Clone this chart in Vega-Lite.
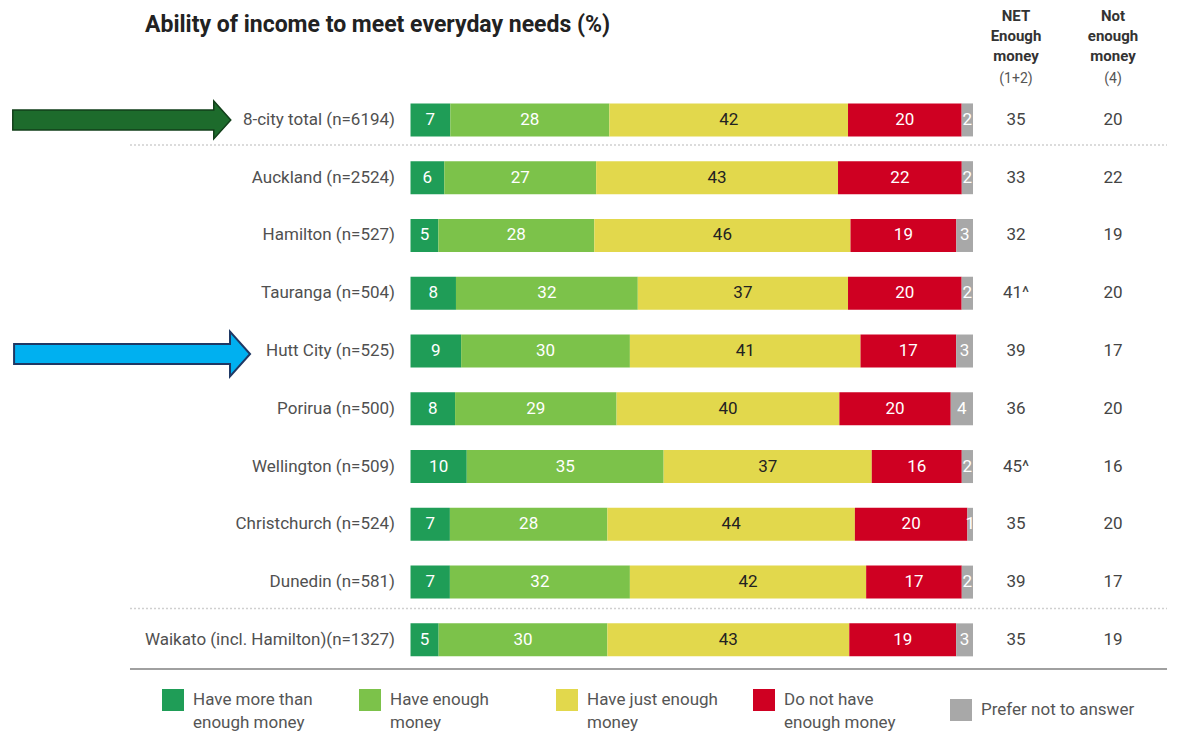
{
  "$schema": "https://vega.github.io/schema/vega-lite/v6.json",
  "width": 1178,
  "height": 742,
  "autosize": {"type": "none"},
  "padding": 0,
  "background": "white",
  "config": {"view": {"stroke": null}, "font": "Roboto", "style": {"guide-label": {"lineHeight": 23}}},
  "datasets": {
    "cities": [
      {"row": 0, "city": "8-city total (n=6194)", "net": "35", "notenough": "20"},
      {"row": 1, "city": "Auckland (n=2524)", "net": "33", "notenough": "22"},
      {"row": 2, "city": "Hamilton (n=527)", "net": "32", "notenough": "19"},
      {"row": 3, "city": "Tauranga (n=504)", "net": "41^", "notenough": "20"},
      {"row": 4, "city": "Hutt City (n=525)", "net": "39", "notenough": "17"},
      {"row": 5, "city": "Porirua (n=500)", "net": "36", "notenough": "20"},
      {"row": 6, "city": "Wellington (n=509)", "net": "45^", "notenough": "16"},
      {"row": 7, "city": "Christchurch (n=524)", "net": "35", "notenough": "20"},
      {"row": 8, "city": "Dunedin (n=581)", "net": "39", "notenough": "17"},
      {"row": 9, "city": "Waikato (incl. Hamilton)(n=1327)", "net": "35", "notenough": "19"}
    ],
    "segments": [
      {"row": 0, "k": 1, "cat": "Have more than enough money", "pct": 7},
      {"row": 0, "k": 2, "cat": "Have enough money", "pct": 28},
      {"row": 0, "k": 3, "cat": "Have just enough money", "pct": 42},
      {"row": 0, "k": 4, "cat": "Do not have enough money", "pct": 20},
      {"row": 0, "k": 5, "cat": "Prefer not to answer", "pct": 2},
      {"row": 1, "k": 1, "cat": "Have more than enough money", "pct": 6},
      {"row": 1, "k": 2, "cat": "Have enough money", "pct": 27},
      {"row": 1, "k": 3, "cat": "Have just enough money", "pct": 43},
      {"row": 1, "k": 4, "cat": "Do not have enough money", "pct": 22},
      {"row": 1, "k": 5, "cat": "Prefer not to answer", "pct": 2},
      {"row": 2, "k": 1, "cat": "Have more than enough money", "pct": 5},
      {"row": 2, "k": 2, "cat": "Have enough money", "pct": 28},
      {"row": 2, "k": 3, "cat": "Have just enough money", "pct": 46},
      {"row": 2, "k": 4, "cat": "Do not have enough money", "pct": 19},
      {"row": 2, "k": 5, "cat": "Prefer not to answer", "pct": 3},
      {"row": 3, "k": 1, "cat": "Have more than enough money", "pct": 8},
      {"row": 3, "k": 2, "cat": "Have enough money", "pct": 32},
      {"row": 3, "k": 3, "cat": "Have just enough money", "pct": 37},
      {"row": 3, "k": 4, "cat": "Do not have enough money", "pct": 20},
      {"row": 3, "k": 5, "cat": "Prefer not to answer", "pct": 2},
      {"row": 4, "k": 1, "cat": "Have more than enough money", "pct": 9},
      {"row": 4, "k": 2, "cat": "Have enough money", "pct": 30},
      {"row": 4, "k": 3, "cat": "Have just enough money", "pct": 41},
      {"row": 4, "k": 4, "cat": "Do not have enough money", "pct": 17},
      {"row": 4, "k": 5, "cat": "Prefer not to answer", "pct": 3},
      {"row": 5, "k": 1, "cat": "Have more than enough money", "pct": 8},
      {"row": 5, "k": 2, "cat": "Have enough money", "pct": 29},
      {"row": 5, "k": 3, "cat": "Have just enough money", "pct": 40},
      {"row": 5, "k": 4, "cat": "Do not have enough money", "pct": 20},
      {"row": 5, "k": 5, "cat": "Prefer not to answer", "pct": 4},
      {"row": 6, "k": 1, "cat": "Have more than enough money", "pct": 10},
      {"row": 6, "k": 2, "cat": "Have enough money", "pct": 35},
      {"row": 6, "k": 3, "cat": "Have just enough money", "pct": 37},
      {"row": 6, "k": 4, "cat": "Do not have enough money", "pct": 16},
      {"row": 6, "k": 5, "cat": "Prefer not to answer", "pct": 2},
      {"row": 7, "k": 1, "cat": "Have more than enough money", "pct": 7},
      {"row": 7, "k": 2, "cat": "Have enough money", "pct": 28},
      {"row": 7, "k": 3, "cat": "Have just enough money", "pct": 44},
      {"row": 7, "k": 4, "cat": "Do not have enough money", "pct": 20},
      {"row": 7, "k": 5, "cat": "Prefer not to answer", "pct": 1},
      {"row": 8, "k": 1, "cat": "Have more than enough money", "pct": 7},
      {"row": 8, "k": 2, "cat": "Have enough money", "pct": 32},
      {"row": 8, "k": 3, "cat": "Have just enough money", "pct": 42},
      {"row": 8, "k": 4, "cat": "Do not have enough money", "pct": 17},
      {"row": 8, "k": 5, "cat": "Prefer not to answer", "pct": 2},
      {"row": 9, "k": 1, "cat": "Have more than enough money", "pct": 5},
      {"row": 9, "k": 2, "cat": "Have enough money", "pct": 30},
      {"row": 9, "k": 3, "cat": "Have just enough money", "pct": 43},
      {"row": 9, "k": 4, "cat": "Do not have enough money", "pct": 19},
      {"row": 9, "k": 5, "cat": "Prefer not to answer", "pct": 3}
    ]
  },
  "layer": [
    {
      "data": {"values": [{"line": "top"}]},
      "mark": {"type": "rule", "color": "#d0d0d0", "strokeWidth": 1.5, "strokeDash": [2, 2]},
      "encoding": {
        "x": {"datum": -0.4987, "type": "quantitative", "scale": {"domain": [-0.7298, 1.3644], "nice": false, "zero": false}, "axis": null},
        "x2": {"datum": 1.3449},
        "y": {"datum": 0.435, "type": "quantitative", "scale": {"domain": [-1.9894, 10.6814], "nice": false, "zero": false, "reverse": true}, "axis": null}
      }
    },
    {
      "data": {"values": [{"line": "mid"}]},
      "mark": {"type": "rule", "color": "#d0d0d0", "strokeWidth": 1.5, "strokeDash": [2, 2]},
      "encoding": {
        "x": {"datum": -0.4987, "type": "quantitative", "axis": null},
        "x2": {"datum": 1.3449},
        "y": {"datum": 8.456, "type": "quantitative", "axis": null}
      }
    },
    {
      "data": {"values": [{"line": "bottom"}]},
      "mark": {"type": "rule", "color": "#a0a0a0", "strokeWidth": 2},
      "encoding": {
        "x": {"datum": -0.4987, "type": "quantitative", "axis": null},
        "x2": {"datum": 1.3449},
        "y": {"datum": 9.503, "type": "quantitative", "axis": null}
      }
    },
    {
      "data": {"name": "segments"},
      "mark": {"type": "bar", "orient": "horizontal", "size": 33},
      "encoding": {
        "x": {"field": "pct", "type": "quantitative", "stack": "normalize", "axis": null},
        "y": {"field": "row", "type": "quantitative", "axis": null},
        "order": {"field": "k", "type": "quantitative"},
        "color": {
          "field": "cat",
          "type": "nominal",
          "scale": {
            "domain": ["Have more than enough money", "Have enough money", "Have just enough money", "Do not have enough money", "Prefer not to answer"],
            "range": ["#1f9d57", "#7cc24a", "#e2d84c", "#cf0022", "#a8a8a8"]
          },
          "legend": {
            "orient": "none",
            "legendX": 162,
            "legendY": 689,
            "direction": "horizontal",
            "columns": 5,
            "title": null,
            "symbolType": "square",
            "symbolSize": 484,
            "symbolStrokeWidth": 0,
            "symbolOpacity": 1,
            "labelFontSize": 17,
            "labelColor": "#555555",
            "labelFont": "Roboto",
            "labelOffset": 9,
            "labelLimit": 300,
            "gridAlign": "all",
            "columnPadding": 12,
            "labelExpr": "datum.label == 'Have more than enough money' ? ['Have more than', 'enough money'] : datum.label == 'Have enough money' ? ['Have enough', 'money'] : datum.label == 'Have just enough money' ? ['Have just enough', 'money'] : datum.label == 'Do not have enough money' ? ['Do not have', 'enough money'] : datum.label"
          }
        }
      }
    },
    {
      "data": {"name": "segments"},
      "mark": {"type": "text", "fontSize": 17, "baseline": "middle", "align": "center"},
      "encoding": {
        "x": {"field": "pct", "type": "quantitative", "stack": "normalize", "bandPosition": 0.5, "axis": null},
        "y": {"field": "row", "type": "quantitative", "axis": null},
        "order": {"field": "k", "type": "quantitative"},
        "detail": {"field": "cat", "type": "nominal"},
        "text": {"field": "pct", "type": "quantitative"},
        "color": {"condition": {"test": "datum.k == 3", "value": "#222222"}, "value": "#ffffff"}
      }
    },
    {
      "data": {"name": "cities"},
      "mark": {"type": "text", "fontSize": 17, "align": "right", "baseline": "middle", "color": "#505050"},
      "encoding": {
        "x": {"datum": -0.0276, "type": "quantitative", "axis": null},
        "y": {"field": "row", "type": "quantitative", "axis": null},
        "text": {"field": "city"}
      }
    },
    {
      "data": {"name": "cities"},
      "mark": {"type": "text", "fontSize": 17, "align": "center", "baseline": "middle", "color": "#444444"},
      "encoding": {
        "x": {"datum": 1.0764, "type": "quantitative", "axis": null},
        "y": {"field": "row", "type": "quantitative", "axis": null},
        "text": {"field": "net"}
      }
    },
    {
      "data": {"name": "cities"},
      "mark": {"type": "text", "fontSize": 17, "align": "center", "baseline": "middle", "color": "#444444"},
      "encoding": {
        "x": {"datum": 1.2489, "type": "quantitative", "axis": null},
        "y": {"field": "row", "type": "quantitative", "axis": null},
        "text": {"field": "notenough"}
      }
    },
    {
      "data": {"name": "cities"},
      "transform": [{"filter": "datum.row == 0"}],
      "mark": {"type": "point", "shape": "M-1,-0.092L0.844,-0.092L0.844,-0.174L1,0L0.844,0.174L0.844,0.092L-1,0.092Z", "size": 47524, "filled": true, "fill": "#1d6b2c", "stroke": "#123f1a", "strokeWidth": 1.5, "opacity": 1},
      "encoding": {
        "x": {"datum": -0.5133, "type": "quantitative", "axis": null},
        "y": {"field": "row", "type": "quantitative", "axis": null}
      }
    },
    {
      "data": {"name": "cities"},
      "transform": [{"filter": "datum.row == 4"}],
      "mark": {"type": "point", "shape": "M-1,-0.085L0.83,-0.085L0.83,-0.19L1,0L0.83,0.19L0.83,0.085L-1,0.085Z", "size": 55696, "filled": true, "fill": "#00b0f0", "stroke": "#1f3864", "strokeWidth": 2, "opacity": 1, "yOffset": 3},
      "encoding": {
        "x": {"datum": -0.495, "type": "quantitative", "axis": null},
        "y": {"field": "row", "type": "quantitative", "axis": null}
      }
    },
    {
      "data": {"values": [{"t": "title"}]},
      "mark": {"type": "text", "fontSize": 23, "fontWeight": "bold", "align": "left", "baseline": "alphabetic", "color": "#222222"},
      "encoding": {
        "x": {"datum": -0.472, "type": "quantitative", "axis": null},
        "y": {"datum": -1.528, "type": "quantitative", "axis": null},
        "text": {"value": "Ability of income to meet everyday needs (%)"}
      }
    },
    {
      "data": {"values": [{"t": "h1"}]},
      "mark": {"type": "text", "fontSize": 15, "fontWeight": "bold", "align": "center", "baseline": "alphabetic", "lineHeight": 20, "color": "#333333"},
      "encoding": {
        "x": {"datum": 1.0764, "type": "quantitative", "axis": null},
        "y": {"datum": -1.716, "type": "quantitative", "axis": null},
        "text": {"value": ["NET", "Enough", "money"]}
      }
    },
    {
      "data": {"values": [{"t": "h1b"}]},
      "mark": {"type": "text", "fontSize": 14, "align": "center", "baseline": "alphabetic", "color": "#555555"},
      "encoding": {
        "x": {"datum": 1.0764, "type": "quantitative", "axis": null},
        "y": {"datum": -0.64, "type": "quantitative", "axis": null},
        "text": {"value": "(1+2)"}
      }
    },
    {
      "data": {"values": [{"t": "h2"}]},
      "mark": {"type": "text", "fontSize": 15, "fontWeight": "bold", "align": "center", "baseline": "alphabetic", "lineHeight": 20, "color": "#333333"},
      "encoding": {
        "x": {"datum": 1.2489, "type": "quantitative", "axis": null},
        "y": {"datum": -1.716, "type": "quantitative", "axis": null},
        "text": {"value": ["Not", "enough", "money"]}
      }
    },
    {
      "data": {"values": [{"t": "h2b"}]},
      "mark": {"type": "text", "fontSize": 14, "align": "center", "baseline": "alphabetic", "color": "#555555"},
      "encoding": {
        "x": {"datum": 1.2489, "type": "quantitative", "axis": null},
        "y": {"datum": -0.64, "type": "quantitative", "axis": null},
        "text": {"value": "(4)"}
      }
    }
  ]
}
